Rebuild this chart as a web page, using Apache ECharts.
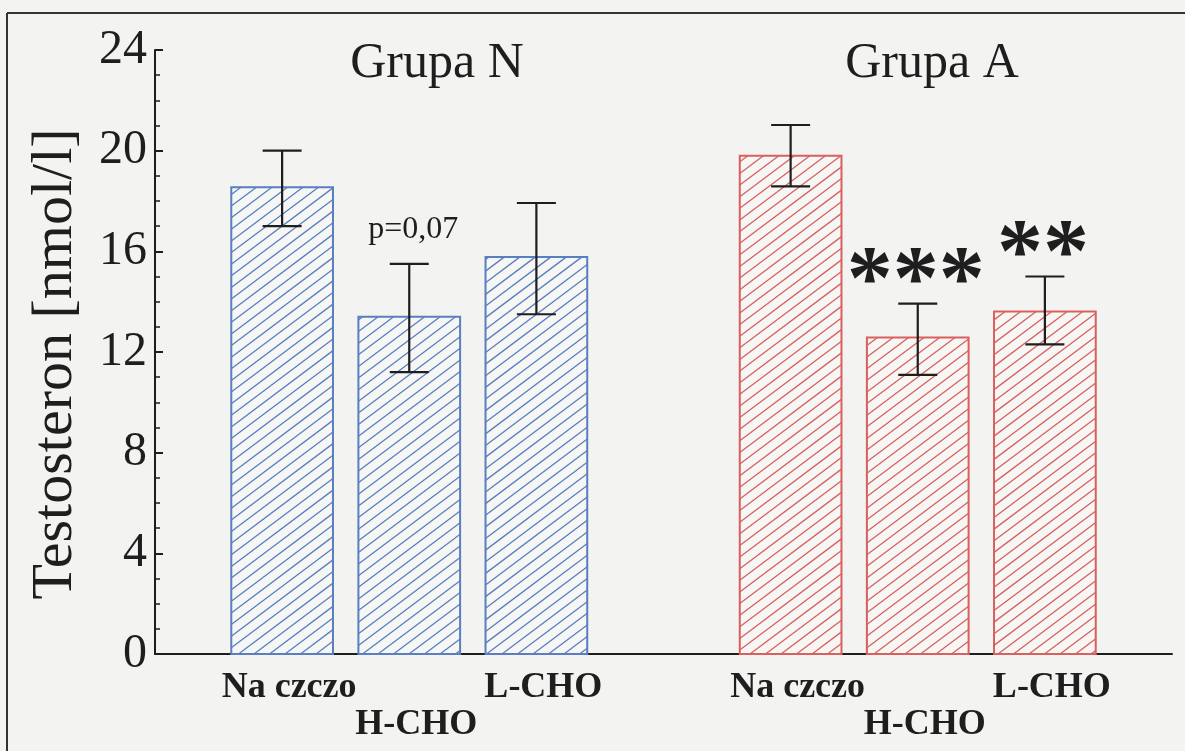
<!DOCTYPE html>
<html>
<head>
<meta charset="utf-8">
<script src="https://cdn.jsdelivr.net/npm/echarts@6/dist/echarts.min.js"></script>
<style>
  html, body { margin: 0; padding: 0; background: #f3f3f1; }
  #chart { width: 1185px; height: 751px; }
</style>
</head>
<body>
<div id="chart"></div>
<script>
// ---- data ----
const categories = ['Na czczo', 'H-CHO', 'L-CHO', 'Na czczo', 'H-CHO', 'L-CHO'];
const slots = [1, 2, 3, 5, 6, 7];
const groupOf = [0, 0, 0, 1, 1, 1];
const groupTitles = ['Grupa N', 'Grupa A'];
const means = [18.55, 13.4, 15.77, 19.8, 12.58, 13.61];
const errLow = [17.0, 11.2, 13.5, 18.58, 11.09, 12.3];
const errHigh = [20.0, 15.5, 17.92, 21.02, 13.92, 15.0];
const annotations = ['', 'p=0,07', '', '', '***', '**'];
const yMin = 0, yMax = 24, yStep = 4;
const yName = 'Testosteron [nmol/l]';

// ---- style ----
const groupColors = ['#5a7fc0', '#d9605f'];
const ink = '#1e1e1e';
const bg = '#f3f3f1';
const serif = '"Liberation Serif", "Times New Roman", serif';

const chart = echarts.init(document.getElementById('chart'), null, { renderer: 'canvas' });

function renderBar(params, api) {
  const i = params.dataIndex;
  const x = api.value(0), v = api.value(1), lo = api.value(2), hi = api.value(3);
  const tl = api.coord([x - 0.4, v]);
  const br = api.coord([x + 0.4, 0]);
  const x0 = tl[0], x1 = br[0], y0 = tl[1], y1 = br[1];
  const H = y1 - y0;
  const color = groupColors[groupOf[i]];
  const children = [];
  children.push({ type: 'rect', shape: { x: x0, y: y0, width: x1 - x0, height: H }, style: { fill: '#f6f6f4', stroke: null } });
  // hatch
  const k = 0.75, dx = 15.5;
  const aStart = Math.floor((x0 - H / k) / dx) * dx + 6;
  for (let a = aStart; a < x1; a += dx) {
    const xs = Math.max(x0, a), xe = Math.min(x1, a + H / k);
    if (xe > xs) {
      children.push({ type: 'line', shape: { x1: xs, y1: y1 - k * (xs - a), x2: xe, y2: y1 - k * (xe - a) },
        style: { stroke: color, lineWidth: 1.3 } });
    }
  }
  children.push({ type: 'rect', shape: { x: x0, y: y0, width: x1 - x0, height: H }, style: { fill: null, stroke: color, lineWidth: 2 } });
  // error bar
  const pl = api.coord([x, lo]), ph = api.coord([x, hi]);
  const cap = 19.5;
  const es = { stroke: ink, lineWidth: 2.2 };
  children.push({ type: 'line', shape: { x1: pl[0], y1: pl[1], x2: ph[0], y2: ph[1] }, style: es });
  children.push({ type: 'line', shape: { x1: pl[0] - cap, y1: pl[1], x2: pl[0] + cap, y2: pl[1] }, style: es });
  children.push({ type: 'line', shape: { x1: ph[0] - cap, y1: ph[1], x2: ph[0] + cap, y2: ph[1] }, style: es });
  // annotation
  const ann = annotations[i];
  if (ann) {
    const star = ann.indexOf('*') >= 0;
    children.push({ type: 'text', x: ph[0] + (star ? -2 : 4), y: ph[1] + (star ? 27 : -34),
      style: { text: ann, fill: ink, align: 'center', verticalAlign: star ? 'bottom' : 'middle',
        font: (star ? 'bold 92px ' : '32px ') + serif } });
  }
  return { type: 'group', children: children };
}

const option = {
  backgroundColor: bg,
  animation: false,
  grid: { left: 155, right: 13, top: 50, bottom: 97, containLabel: false },
  xAxis: {
    type: 'value', min: 0, max: 8, interval: 1,
    axisLine: { show: true, onZero: false, lineStyle: { color: ink, width: 2 } },
    axisTick: { show: false },
    splitLine: { show: false },
    axisLabel: {
      margin: 15,
      color: ink,
      fontFamily: serif,
      fontWeight: 'bold',
      fontSize: 36,
      lineHeight: 37,
      padding: [0, 0, 0, 14],
      formatter: function (v) {
        const i = slots.indexOf(v);
        if (i < 0) return '';
        return (i % 3 === 1 ? '\n' : '') + categories[i];
      }
    }
  },
  yAxis: {
    type: 'value', min: yMin, max: yMax, interval: yStep,
    name: yName, nameLocation: 'middle', nameRotate: 90, nameGap: 70,
    nameTextStyle: { fontFamily: serif, fontSize: 58, color: ink, padding: [0, 24, 0, 0] },
    axisLine: { show: true, lineStyle: { color: ink, width: 2 } },
    axisTick: { show: true, inside: true, length: 8, lineStyle: { color: ink, width: 2 } },
    minorTick: { show: true, splitNumber: 4, length: 5, lineStyle: { color: ink, width: 1.5 } },
    splitLine: { show: false },
    axisLabel: { margin: 8, color: ink, fontFamily: serif, fontSize: 48 }
  },
  graphic: [
    { type: 'line', shape: { x1: 7, y1: 13, x2: 1185, y2: 13 }, style: { stroke: '#333', lineWidth: 2 } },
    { type: 'line', shape: { x1: 7, y1: 13, x2: 7, y2: 751 }, style: { stroke: '#333', lineWidth: 2 } },
    { type: 'text', x: 437, y: 64, style: { text: groupTitles[0], font: '50px ' + serif, fill: ink, align: 'center', verticalAlign: 'middle' } },
    { type: 'text', x: 932, y: 64, style: { text: groupTitles[1], font: '50px ' + serif, fill: ink, align: 'center', verticalAlign: 'middle' } }
  ],
  series: [{
    type: 'custom',
    renderItem: renderBar,
    clip: false,
    data: slots.map((s, i) => [s, means[i], errLow[i], errHigh[i]])
  }]
};
chart.setOption(option);
</script>
</body>
</html>
